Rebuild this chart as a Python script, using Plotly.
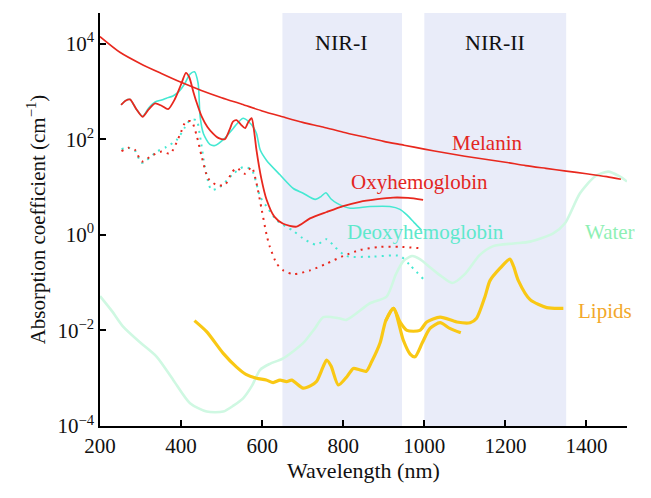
import plotly.graph_objects as go

# ---------------- data ----------------
mel_x = [200, 250, 300, 350, 400, 450, 500, 550, 600, 650, 700, 750, 800, 850, 900,
         950, 1000, 1050, 1100, 1150, 1200, 1250, 1300, 1350, 1400, 1450, 1485]
mel_y = [14000, 6500, 3800, 2400, 1550, 1050, 740, 540, 390, 295, 225, 180, 140, 112, 90,
         75, 62, 52, 44, 38, 33, 28, 24.5, 21.5, 19, 16.5, 14.5]

oxy_x = [252, 263, 274, 290, 305, 320, 336, 352, 368, 385, 400, 412, 420, 430, 438, 451, 465,
         479, 493, 508, 520, 528, 537, 548, 558, 566, 574, 580, 586, 598, 611, 630, 652, 685,
         718, 759, 800, 841, 880, 923, 960, 997]
oxy_y = [525, 640, 680, 420, 295, 420, 560, 500, 425, 700, 1400, 2450, 2000, 1000, 600, 296, 180,
         131, 105, 100, 160, 233, 250, 200, 170, 230, 275, 150, 59, 15, 5.4, 2.4, 1.7, 1.48,
         2.2, 3.0, 4.0, 4.9, 5.5, 6.0, 5.9, 5.4]

deoxy_x = [252, 263, 274, 290, 305, 320, 336, 352, 364, 380, 395, 410, 422, 433, 442, 447, 455,
           471, 484, 508, 529, 553, 574, 586, 595, 611, 644, 677, 700, 731, 745, 757, 770, 784,
           817, 866, 915, 940, 957, 975, 993]
deoxy_y = [525, 640, 680, 420, 300, 450, 600, 660, 720, 800, 1000, 1500, 2300, 2570, 1480, 296, 132,
           78, 74, 105, 170, 275, 200, 132, 60, 36, 18, 9.3, 7.5, 5.5, 6.3, 7.6, 5.6, 4.6,
           3.6, 3.9, 3.9, 3.4, 2.6, 1.8, 1.26]

oxy_lo_x = [253, 270, 286, 303, 327, 352, 373, 397, 412, 426, 438, 451, 467, 488, 508, 525, 537,
            558, 574, 586, 599, 611, 619, 636, 652, 677, 718, 759, 800, 841, 891, 940, 993]
oxy_lo_y = [56, 66, 60, 34, 45, 55, 50, 123, 235, 235, 123, 43, 15, 11, 11, 20, 25,
            19, 26, 12, 3.3, 1.0, 0.56, 0.25, 0.18, 0.15, 0.18, 0.25, 0.36, 0.48, 0.56, 0.56, 0.52]

deoxy_lo_x = [253, 270, 286, 303, 340, 364, 389, 410, 422, 438, 447, 459, 475, 496, 529, 553,
              574, 595, 615, 636, 677, 700, 734, 759, 780, 808, 874, 940, 965, 997]
deoxy_lo_y = [62, 66, 58, 32, 55, 69, 96, 180, 250, 250, 112, 26, 8.7, 10, 19, 26,
              23, 6.3, 3.5, 2.0, 1.2, 0.85, 0.62, 0.81, 0.55, 0.36, 0.35, 0.36, 0.23, 0.12]

water_x = [200, 230, 257, 300, 340, 381, 422, 463, 504, 530, 553, 575, 595, 619, 652, 701, 730,
           751, 790, 808, 866, 907, 930, 948, 970, 989, 1014, 1040, 1069, 1100, 1137, 1170, 1220,
           1261, 1318, 1347, 1384, 1421, 1454, 1480, 1500]
water_y = [0.052, 0.025, 0.012, 0.0055, 0.0028, 0.00091, 0.0003, 0.0002, 0.0002, 0.00027, 0.00038,
           0.0007, 0.0015, 0.002, 0.0026, 0.0054, 0.011, 0.019, 0.018, 0.0166, 0.037, 0.051, 0.15,
           0.28, 0.36, 0.31, 0.21, 0.14, 0.098, 0.15, 0.38, 0.58, 0.66, 0.72, 1.07, 1.74, 7.4, 16.6,
           21, 17, 13]

lipA_x = [433, 463, 504, 537, 560, 586, 610, 627, 644, 660, 673, 701, 720, 734, 750, 759, 770,
          788, 810, 825, 840, 857, 870, 891, 905, 924, 948, 965, 977, 995, 1014, 1039, 1063, 1090]
lipA_y = [0.016, 0.0094, 0.0033, 0.0017, 0.0012, 0.001, 0.00092, 0.00081, 0.00091, 0.00085,
          0.00091, 0.00062, 0.0007, 0.00085, 0.0017, 0.0024, 0.0018, 0.00072, 0.0011, 0.0016,
          0.0015, 0.0014, 0.0022, 0.0055, 0.016, 0.029, 0.0063, 0.0032, 0.0028, 0.0055, 0.011,
          0.0145, 0.011, 0.0089]

lipB_x = [905, 924, 940, 957, 989, 1006, 1039, 1080, 1113, 1129, 1150, 1162, 1187, 1211, 1220,
          1232, 1261, 1302, 1343]
lipB_y = [0.016, 0.029, 0.015, 0.010, 0.010, 0.015, 0.019, 0.015, 0.0145, 0.018, 0.052, 0.11,
          0.2, 0.31, 0.22, 0.11, 0.044, 0.030, 0.029]

bands = [("NIR-I", 650, 945), ("NIR-II", 1000, 1350)]

y_ticks = [1e-4, 1e-2, 1, 1e2, 1e4]
y_ticktext = ["10<sup>\u22124</sup>", "10<sup>\u22122</sup>", "10<sup>0</sup>",
              "10<sup>2</sup>", "10<sup>4</sup>"]
x_ticks = [200, 400, 600, 800, 1000, 1200, 1400]

labels = [
    ("Melanin", 1155, 1.92, "#E3261F"),
    ("Oxyhemoglobin", 989, 1.11, "#E3261F"),
    ("Deoxyhemoglobin", 1004, 0.065, "#5EE8CC"),
    ("Water", 1458, 0.065, "#8EF0B4"),
    ("Lipids", 1446, -1.59, "#F2A82A"),
]

# ---------------- figure ----------------
FONT = "Liberation Serif, Times New Roman, serif"
RED = "#E8281E"
CYAN = "#45E8D2"
fig = go.Figure()

def add(x, y, color, width, dash="solid", smooth=0.7):
    fig.add_trace(go.Scatter(x=x, y=y, mode="lines",
                             line=dict(color=color, width=width, dash=dash,
                                       shape="spline", smoothing=smooth),
                             showlegend=False, hoverinfo="skip"))

add(water_x, water_y, "#CFF8E2", 2.6)
add(lipA_x, lipA_y, "#F9C814", 3.2)
add(lipB_x, lipB_y, "#F9C814", 3.2)
add(deoxy_lo_x, deoxy_lo_y, CYAN, 2, dash="2px,5px")
add(oxy_lo_x, oxy_lo_y, RED, 2, dash="2px,5px")
add(deoxy_x, deoxy_y, CYAN, 1.6)
add(oxy_x, oxy_y, RED, 1.8)
add(mel_x, mel_y, RED, 1.6)

shapes = []
annotations = []
for name, x0, x1 in bands:
    shapes.append(dict(type="rect", xref="x", yref="paper", x0=x0, x1=x1, y0=0, y1=1,
                       fillcolor="#E9ECF9", line=dict(width=0), layer="below"))
annotations.append(dict(text="NIR-I", x=796, y=4.02, xref="x", yref="y", showarrow=False,
                        font=dict(family=FONT, size=22, color="#111111")))
annotations.append(dict(text="NIR-II", x=1174, y=4.02, xref="x", yref="y", showarrow=False,
                        font=dict(family=FONT, size=22, color="#111111")))
for text, x, y, c in labels:
    annotations.append(dict(text=text, x=x, y=y, xref="x", yref="y", showarrow=False,
                            font=dict(family=FONT, size=21, color=c)))

# the page body adds an 8px offset; margins compensate so the plot area sits at 100..627 x 13..426
fig.update_layout(
    width=651, height=498,
    margin=dict(l=92, r=32, t=5, b=80),
    paper_bgcolor="white", plot_bgcolor="white",
    font=dict(family=FONT, size=21, color="#111111"),
    shapes=shapes, annotations=annotations,
    xaxis=dict(range=[200, 1500], tickvals=x_ticks, ticks="inside", ticklen=6,
               tickcolor="black", tickwidth=1.5, showline=True, linecolor="black",
               linewidth=1.5, showgrid=False, zeroline=False,
               tickfont=dict(family=FONT, size=21, color="#111111"),
               title=dict(text="Wavelength (nm)", standoff=2,
                          font=dict(family=FONT, size=22, color="#111111"))),
    yaxis=dict(type="log", range=[-4, 4.64], tickvals=y_ticks, ticktext=y_ticktext,
               ticks="inside", ticklen=6, tickcolor="black", tickwidth=1.5,
               showline=True, linecolor="black", linewidth=1.5, showgrid=False,
               zeroline=False, tickfont=dict(family=FONT, size=21, color="#111111"),
               title=dict(text="Absorption coefficient (cm<sup>\u22121</sup>)", standoff=6,
                          font=dict(family=FONT, size=21, color="#111111"))),
)

fig.write_html("out.html")
